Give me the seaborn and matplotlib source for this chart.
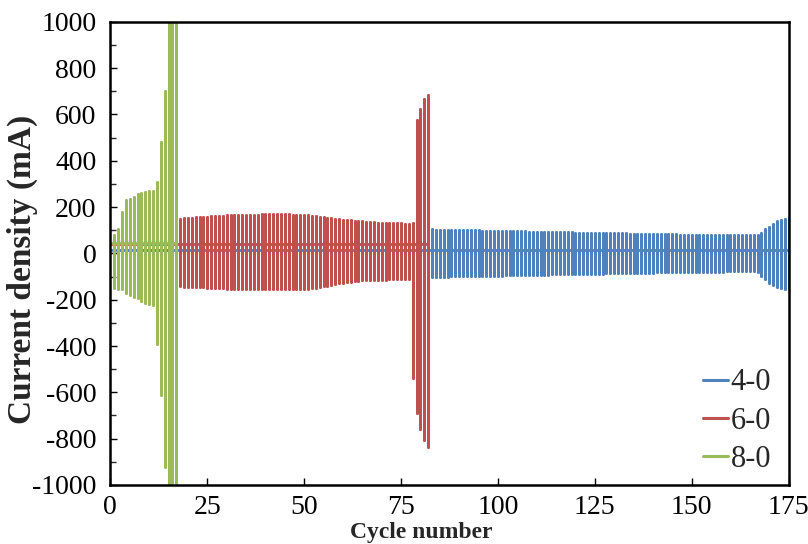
import numpy as np
import pandas as pd
import matplotlib
matplotlib.use("Agg")
import matplotlib.pyplot as plt
import seaborn as sns
from matplotlib.ticker import MultipleLocator

# series labels and colours
series_names = ["4-0", "6-0", "8-0"]
series_colors = ["#4F81BD", "#C0504D", "#9BBB59"]

# rest level (the flat line near zero) of each series, mA
baseline = {"4-0": 15, "6-0": 40, "8-0": 45}

# 4-0: cycles 1..175 (peaks under the other two series are hidden)
blue_top = [
    60, 80, 95, 100, 102, 104, 105, 105, 106, 106,
    106, 106, 106, 106, 107, 107, 107, 107, 107, 107,
    107, 107, 107, 107, 107, 107, 107, 107, 107, 107,
    107, 107, 107, 107, 107, 107, 107, 107, 107, 107,
    107, 107, 107, 107, 107, 107, 107, 107, 107, 107,
    106, 106, 106, 106, 106, 106, 106, 106, 106, 106,
    105, 105, 105, 105, 105, 105, 105, 105, 105, 105,
    105, 105, 105, 105, 105, 105, 104, 104, 104, 104,
    104, 104,
    104, 103, 103, 102, 102, 101, 101, 100,
    100, 100, 99, 99, 99, 98, 98, 98, 97, 97,
    97, 96, 96, 96, 95, 95, 95, 94, 94, 94,
    93, 93, 93, 92, 92, 92, 91, 91, 91, 90,
    90, 90, 89, 89, 89, 88, 88, 88, 87, 87,
    86, 86, 86, 85, 85, 85, 84, 84, 84, 83,
    83, 83, 83, 82, 82, 82, 81, 81, 81, 81,
    80, 80, 80, 80, 79, 79, 79, 79, 79, 78,
    78, 78, 78, 78, 78, 78, 80,
    86, 104, 115, 127, 138, 144, 147, 151,
]
blue_bottom = [
    -95, -100, -100, -101, -101, -102, -102, -102, -102, -102,
    -102, -102, -102, -102, -102, -102, -102, -102, -102, -102,
    -102, -102, -102, -102, -102, -102, -102, -102, -102, -102,
    -102, -102, -102, -102, -102, -102, -102, -102, -102, -102,
    -102, -102, -102, -102, -102, -102, -102, -102, -102, -102,
    -102, -102, -102, -102, -102, -102, -102, -102, -102, -102,
    -102, -102, -102, -102, -101, -101, -101, -101, -101, -101,
    -101, -101, -101, -101, -101, -101, -101, -101, -101, -101,
    -101, -101,
    -101, -101, -100, -100, -100, -99, -99, -99,
    -99, -98, -98, -98, -98, -97, -97, -97, -96, -96,
    -96, -95, -95, -95, -94, -94, -94, -93, -93, -93,
    -92, -92, -92, -91, -91, -91, -90, -90, -89, -89,
    -89, -88, -88, -88, -87, -87, -87, -86, -86, -86,
    -86, -85, -85, -85, -84, -84, -84, -83, -83, -83,
    -82, -82, -82, -82, -81, -81, -81, -81, -80, -80,
    -80, -80, -79, -79, -79, -79, -79, -79, -78, -78,
    -78, -78, -78, -78, -78, -78, -82,
    -98, -112, -127, -138, -144, -150, -153, -155,
]

# 6-0: cycles 1..82 (first 17 hidden behind 8-0)
red_top = [
    70, 90, 120, 135, 140, 142, 144, 145, 146, 147,
    148, 148, 149, 149, 150, 150, 150,
    150, 152, 153, 154, 155, 157, 158, 159, 160, 161,
    162, 163, 164, 164, 165, 165, 166, 166, 167, 167,
    167, 168, 168, 168, 169, 169, 169, 168, 168, 167,
    167, 166, 165, 164, 162, 160, 158, 156, 154, 152,
    150, 148, 146, 144, 142, 141, 139, 138, 136, 135,
    134, 133, 132, 131, 130, 130, 129, 129, 128, 128,
    130, 575, 622, 666, 685,
]
red_bottom = [
    -120, -125, -130, -135, -138, -140, -141, -142, -142, -143,
    -143, -143, -143, -143, -143, -143, -143,
    -143, -144, -145, -145, -146, -146, -147, -148, -149, -150,
    -150, -151, -152, -152, -153, -153, -154, -154, -155, -155,
    -155, -156, -156, -156, -156, -156, -156, -155, -155, -155,
    -155, -154, -154, -152, -150, -148, -145, -142, -139, -136,
    -132, -128, -126, -124, -122, -120, -118, -117, -116, -115,
    -114, -114, -113, -113, -112, -112, -112, -112, -112, -112,
    -540, -690, -760, -806, -835,
]

# 8-0: cycles 1..17 (last three run off the scale)
green_top = [80, 105, 177, 230, 236, 245, 255, 259, 264, 269,
             269, 307, 480, 701, 1200, 1200, 1200]
green_bottom = [-148, -153, -155, -170, -180, -187, -194, -204, -213, -217,
                -224, -390, -612, -921, -1200, -1200, -1200]

peaks = {
    "4-0": (blue_top, blue_bottom),
    "6-0": (red_top, red_bottom),
    "8-0": (green_top, green_bottom),
}

# build the current trace: rest -> charge peak -> discharge peak -> rest
rows = []
for name in series_names:
    top, bottom = peaks[name]
    base = baseline[name]
    rows.append((name, 0, base))
    for c, (t, b) in enumerate(zip(top, bottom), start=1):
        rows.append((name, c, base))
        rows.append((name, c, t))
        rows.append((name, c, b))
        rows.append((name, c, base))
df = pd.DataFrame(rows, columns=["series", "cycle", "current"])

sns.set_style("ticks")
plt.rcParams["font.family"] = ["Liberation Serif", "DejaVu Serif"]
plt.rcParams["axes.unicode_minus"] = False

fig, ax = plt.subplots(figsize=(8.08, 5.44), dpi=100)
fig.subplots_adjust(left=0.1366, right=0.976, top=0.960, bottom=0.1085)

sns.lineplot(data=df, x="cycle", y="current", hue="series",
             hue_order=series_names, palette=series_colors,
             sort=False, estimator=None, lw=2.0, ax=ax)

ax.set_xlim(0, 175)
ax.set_ylim(-1000, 1000)
ax.xaxis.set_major_locator(MultipleLocator(25))
ax.yaxis.set_major_locator(MultipleLocator(200))
ax.yaxis.set_minor_locator(MultipleLocator(100))
ax.tick_params(which="major", direction="in", length=5, width=1,
               labelsize=20, colors="black", pad=10)
ax.tick_params(axis="x", which="major", pad=7)
ax.tick_params(which="minor", direction="in", length=4, width=1)
for s in ax.spines.values():
    s.set_linewidth(1.8)
    s.set_color("black")

ax.set_xlabel("Cycle number", fontsize=17, fontweight="bold")
ax.xaxis.set_label_coords(0.458, -0.08)
ax.set_ylabel("Current density (mA)", fontsize=24, fontweight="bold")
ax.yaxis.set_label_coords(-0.106, 0.465)

leg = ax.legend(loc="lower right", frameon=False, fontsize=22,
                handlelength=0.8, handletextpad=0.1, labelspacing=0.3,
                bbox_to_anchor=(1.015, -0.035))
for h in leg.get_lines():
    h.set_linewidth(2.2)

fig.savefig("out.png", dpi=100)
